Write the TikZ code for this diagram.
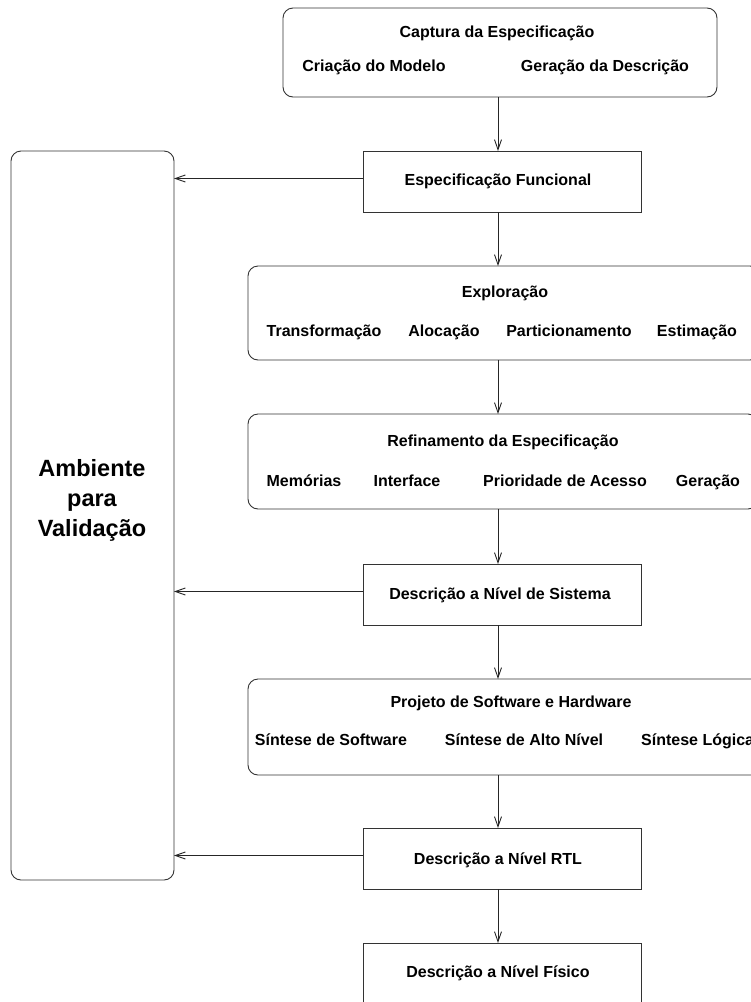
\documentclass[tikz,border=0pt]{standalone}
\usepackage{fontspec}
\setmainfont{Liberation Sans}
\usetikzlibrary{arrows.meta}
\begin{document}
\begin{tikzpicture}[x=1pt,y=-1pt,
  frame/.style={draw=black!80, line width=0.9pt, anchor=north west, inner sep=0pt, outer sep=0pt},
  roundframe/.style={frame, rounded corners=10pt},
  lbl/.style={font=\fontsize{16}{19}\selectfont\bfseries, inner sep=0pt, text height=11.5pt, text depth=3.5pt},
  biglbl/.style={font=\fontsize{23.5}{30}\selectfont\bfseries, align=center, inner sep=0pt},
  link/.style={draw=black!85, line width=0.9pt, -{Straight Barb[length=10pt,width=7pt]}},
]
\useasboundingbox (0,0) rectangle (751,1002);
\clip (0,0) rectangle (751,1002);

% vertical flow axis
\coordinate (axis) at (498,0);

% validation environment on the left
\node[roundframe, minimum width=163pt, minimum height=729pt] (amb) at (11,151) {};
\node[biglbl] (ambtxt) at (92,500) {Ambiente\\para\\Validação};

% specification capture
\node[roundframe, minimum width=434pt, minimum height=89pt] (cap) at (283,8) {};
\node[lbl] (capt) at (497,33) {Captura da Especificação};
\node[lbl] (cap1) at (374,67) {Criação do Modelo};
\node[lbl] (cap2) at (605,67) {Geração da Descrição};

% functional specification
\node[frame, minimum width=278pt, minimum height=61pt] (esp) at (363,151) {};
\node[lbl] (espt) at (498,181) {Especificação Funcional};

% exploration
\node[roundframe, minimum width=512pt, minimum height=94pt] (exp) at (248,266) {};
\node[lbl] (expt) at (505,293) {Exploração};
\node[lbl] (exp1) at (324,332) {Transformação};
\node[lbl] (exp2) at (444,332) {Alocação};
\node[lbl] (exp3) at (569,332) {Particionamento};
\node[lbl] (exp4) at (697,332) {Estimação};

% specification refinement
\node[roundframe, minimum width=510pt, minimum height=95pt] (ref) at (248,414) {};
\node[lbl] (reft) at (503,442) {Refinamento da Especificação};
\node[lbl] (ref1) at (304,482) {Memórias};
\node[lbl] (ref2) at (407,482) {Interface};
\node[lbl] (ref3) at (565,482) {Prioridade de Acesso};
\node[lbl] (ref4) at (708,482) {Geração};

% system level description
\node[frame, minimum width=278pt, minimum height=61pt] (sis) at (363,564) {};
\node[lbl] (sist) at (500,595) {Descrição a Nível de Sistema};

% software / hardware design
\node[roundframe, minimum width=524pt, minimum height=96pt] (prj) at (248,679) {};
\node[lbl] (prjt) at (511,703) {Projeto de Software e Hardware};
\node[lbl] (prj1) at (331,741) {Síntese de Software};
\node[lbl] (prj2) at (524,741) {Síntese de Alto Nível};
\node[lbl, anchor=west] (prj3) at (641,741) {Síntese Lógica};

% RTL description
\node[frame, minimum width=278pt, minimum height=61pt] (rtl) at (363,828) {};
\node[lbl] (rtlt) at (498,860) {Descrição a Nível RTL};

% physical description
\node[frame, minimum width=278pt, minimum height=70pt] (fis) at (363,943) {};
\node[lbl] (fist) at (498,973) {Descrição a Nível Físico};

% flow arrows
\draw[link] (cap.south -| axis) -- (esp.north -| axis);
\draw[link] (esp.south -| axis) -- (exp.north -| axis);
\draw[link] (exp.south -| axis) -- (ref.north -| axis);
\draw[link] (ref.south -| axis) -- (sis.north -| axis);
\draw[link] (sis.south -| axis) -- (prj.north -| axis);
\draw[link] (prj.south -| axis) -- (rtl.north -| axis);
\draw[link] (rtl.south -| axis) -- (fis.north -| axis);

% feedback to the validation environment
\draw[link] ([yshift=3pt]esp.west) -- ([yshift=3pt]esp.west -| amb.east);
\draw[link] ([yshift=3pt]sis.west) -- ([yshift=3pt]sis.west -| amb.east);
\draw[link] ([yshift=3pt]rtl.west) -- ([yshift=3pt]rtl.west -| amb.east);
\end{tikzpicture}
\end{document}
